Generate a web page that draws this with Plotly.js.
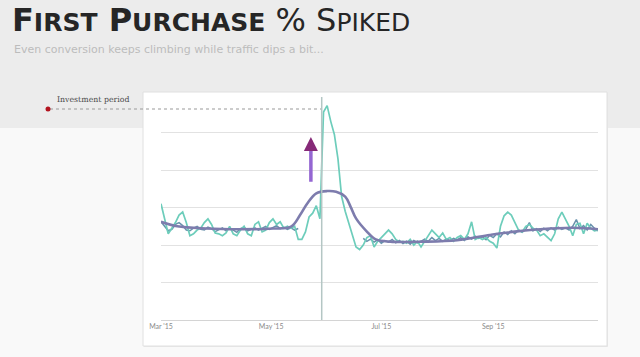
<!DOCTYPE html>
<html>
<head>
<meta charset="utf-8">
<script src="https://cdn.plot.ly/plotly-3.0.1.min.js"></script>
<style>
html,body{margin:0;padding:0;background:#f9f9f9;}
#chart{width:640px;height:357px;}
</style>
</head>
<body>
<div id="chart"></div>
<script>
// ---- data ----
var days = [];
for (var d = 0; d <= 242; d += 2) days.push(d);

var tealValues = [
  3.10, 2.70, 2.30, 2.45, 2.60, 2.80, 2.88, 2.60, 2.25, 2.30,
  2.40, 2.45, 2.60, 2.70, 2.55, 2.32, 2.30, 2.25, 2.32, 2.50,
  2.30, 2.25, 2.40, 2.50, 2.30, 2.25, 2.55, 2.62, 2.35, 2.40,
  2.60, 2.70, 2.55, 2.62, 2.45, 2.50, 2.45, 2.50, 2.15, 2.15,
  2.35, 2.75, 2.85, 3.05, 2.70, 5.55, 5.72, 5.30, 4.95, 4.30,
  3.30, 2.90, 2.60, 2.25, 1.95, 1.88, 2.00, 2.20, 2.25, 1.95,
  2.10, 2.20, 2.30, 2.40, 2.30, 2.15, 2.08, 2.10, 2.05, 2.15,
  2.00, 2.10, 1.95, 2.10, 2.25, 2.40, 2.30, 2.20, 2.32, 2.15,
  2.20, 2.10, 2.20, 2.25, 2.15, 2.30, 2.62, 2.15, 2.20, 2.15,
  2.20, 2.10, 2.05, 1.92, 2.50, 2.78, 2.88, 2.80, 2.60, 2.40,
  2.35, 2.50, 2.55, 2.45, 2.40, 2.25, 2.30, 2.20, 2.12, 2.30,
  2.70, 2.88, 2.70, 2.50, 2.25, 2.55, 2.58, 2.30, 2.58, 2.45,
  2.38, 2.40
];

var blueValues = [
  2.62, 2.50, 2.38, 2.42, 2.55, 2.60, 2.52, 2.40, 2.38, 2.45,
  2.50, 2.42, 2.40, 2.48, 2.44, 2.36, 2.40, 2.46, 2.38, 2.45,
  2.40, 2.34, 2.44, 2.48, 2.38, 2.42, 2.46, 2.40, 2.45, 2.50,
  2.42, 2.48, 2.52, 2.44, 2.48, 2.42, 2.46, 2.40, 2.44, null,
  null, null, null, null, null, null, null, null, null, null,
  null, null, null, null, null, null, 2.18, 2.10, 2.16, 2.08,
  2.14, 2.05, 2.12, 2.08, 2.15, 2.06, 2.12, 2.04, 2.10, 2.02,
  2.12, 2.06, 2.10, 2.16, 2.10, 2.20, 2.12, 2.18, 2.10, 2.16,
  2.12, 2.18, 2.14, 2.20, 2.12, 2.22, 2.16, 2.24, 2.18, 2.22,
  2.14, 2.26, 2.20, 2.30, 2.22, 2.35, 2.28, 2.38, 2.30, 2.40,
  2.34, 2.42, 2.60, 2.38, 2.44, 2.36, 2.45, 2.38, 2.46, 2.40,
  2.48, 2.42, 2.46, 2.40, 2.50, 2.68, 2.44, 2.52, 2.40, 2.55,
  2.45, 2.38
];

var trendDays = [0, 9, 25, 44, 62, 72, 77, 81, 86, 92, 97, 102, 105, 108, 114, 119, 127, 145, 164, 182, 191, 210, 228, 242];
var trendValues = [2.62, 2.50, 2.44, 2.42, 2.44, 2.49, 2.80, 3.11, 3.38, 3.44, 3.42, 3.29, 3.02, 2.71, 2.36, 2.15, 2.09, 2.09, 2.13, 2.27, 2.33, 2.42, 2.46, 2.42];

var tickDays = [0, 61, 122, 184];
var tickLabels = ["Mar '15", "May '15", "Jul '15", "Sep '15"];

var eventDay = 89;
var arrowDay = 83;
var arrowFrom = 3.65;
var arrowTo = 4.88;
var markerLevel = 5.63;
var markerLabel = "Investment period";

// ---- layout helpers (plot area in px) ----
var W = 640, H = 357, L = 161, R = 598, T = 97, B = 320;
function px(x) { return (x - L) / (R - L); }
function py(y) { return (B - y) / (B - T); }

var traces = [
  {x: days, y: blueValues, type: 'scatter', mode: 'lines', connectgaps: false,
   line: {color: '#4f7f9e', width: 1.5}, opacity: 0.85, hoverinfo: 'skip'},
  {x: days, y: tealValues, type: 'scatter', mode: 'lines',
   line: {color: '#6dcdbb', width: 1.7}, hoverinfo: 'skip'},
  {x: trendDays, y: trendValues, type: 'scatter', mode: 'lines',
   line: {color: '#7d7cad', width: 2.6, shape: 'spline', smoothing: 1}, hoverinfo: 'skip'}
];

var layout = {
  width: W, height: H,
  margin: {l: L, r: W - R, t: T, b: H - B, pad: 0},
  paper_bgcolor: '#f9f9f9',
  plot_bgcolor: 'rgba(0,0,0,0)',
  showlegend: false,
  font: {family: 'Lato, "Open Sans", sans-serif'},
  title: {
    text: '<b>F<span style="font-size:25px">IRST</span> P<span style="font-size:25px">URCHASE</span></b> % S<span style="font-size:25px">PIKED</span>',
    font: {size: 32, color: '#262626', family: '"DejaVu Sans", sans-serif'},
    x: 12 / W, xanchor: 'left', xref: 'container',
    y: 1 - 20 / H, yanchor: 'middle', yref: 'container'
  },
  xaxis: {
    range: [0, 242], tickvals: tickDays, ticktext: tickLabels,
    showgrid: false, zeroline: false, showline: true, linecolor: '#d4d4d4', linewidth: 1,
    ticks: '', tickfont: {size: 7, color: '#8a8a8a'}, fixedrange: true
  },
  yaxis: {
    range: [0, 5.95], dtick: 1, showticklabels: false, ticks: '',
    showgrid: true, gridcolor: '#e2e2e2', gridwidth: 1, zeroline: false, fixedrange: true
  },
  shapes: [
    {type: 'rect', xref: 'paper', yref: 'paper', x0: px(-5), x1: px(650), y0: py(128), y1: py(-5),
     fillcolor: '#ececec', line: {width: 0}, layer: 'below'},
    {type: 'rect', xref: 'paper', yref: 'paper', x0: px(144), x1: px(608), y0: py(347), y1: py(93),
     fillcolor: '#e9e9e9', line: {width: 0}, layer: 'below'},
    {type: 'rect', xref: 'paper', yref: 'paper', x0: px(143), x1: px(607), y0: py(346), y1: py(92),
     fillcolor: '#ffffff', line: {color: '#e0e0e0', width: 1}, layer: 'below'},
    {type: 'line', xref: 'x', yref: 'paper', x0: eventDay, x1: eventDay, y0: 0, y1: 1,
     line: {color: '#b4c6c4', width: 1.5}},
    {type: 'line', xref: 'paper', yref: 'y', x0: px(50), x1: px(321), y0: markerLevel, y1: markerLevel,
     line: {color: '#9a9a9a', width: 1.2, dash: 'dot'}},
    {type: 'circle', xref: 'paper', yref: 'y', xsizemode: 'pixel', ysizemode: 'pixel',
     xanchor: px(48), yanchor: markerLevel, x0: -2.5, x1: 2.5, y0: -2.5, y1: 2.5,
     fillcolor: '#b3141f', line: {width: 0}}
  ],
  annotations: [
    {xref: 'paper', yref: 'paper', x: px(12), y: py(49), xanchor: 'left', yanchor: 'middle',
     text: 'Even conversion keeps climbing while traffic dips a bit...', showarrow: false,
     font: {size: 11, color: '#bcbcbc', family: '"DejaVu Sans", sans-serif'}},
    {xref: 'paper', yref: 'paper', x: px(55), y: py(99), xanchor: 'left', yanchor: 'middle',
     text: markerLabel, showarrow: false,
     font: {size: 7.8, color: '#4a4a4a', family: '"DejaVu Serif", serif'}},
    {xref: 'x', yref: 'y', axref: 'x', ayref: 'y', x: arrowDay, y: arrowTo - 0.2, ax: arrowDay, ay: arrowFrom,
     text: '', showarrow: true, arrowhead: 0, arrowwidth: 3.5, arrowcolor: '#9466d2'},
    {xref: 'x', yref: 'y', axref: 'x', ayref: 'y', x: arrowDay, y: arrowTo, ax: arrowDay, ay: arrowTo - 0.25,
     text: '', showarrow: true, arrowhead: 2, arrowsize: 0.8, arrowwidth: 3.5, arrowcolor: '#862a78'}
  ]
};

Plotly.newPlot('chart', traces, layout, {staticPlot: true, displayModeBar: false});
</script>
</body>
</html>
